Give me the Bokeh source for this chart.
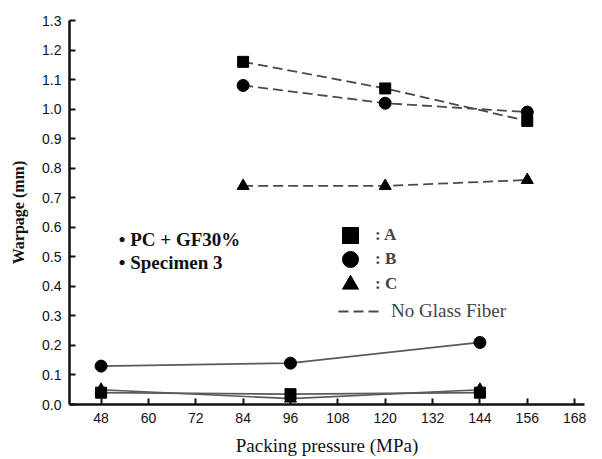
from bokeh.plotting import figure
from bokeh.models import (FixedTicker, Range1d, Label, Legend, LegendItem,
                          NumeralTickFormatter)
from bokeh.embed import file_html
from bokeh.resources import INLINE

# Packing pressure (MPa)
p_gf = [48, 96, 144]          # PC + GF30%
p_nogf = [84, 120, 156]       # no glass fiber

# Warpage (mm), PC + GF30%, specimen 3
gf_A = [0.04, 0.035, 0.04]
gf_B = [0.13, 0.14, 0.21]
gf_C = [0.05, 0.02, 0.05]

# Warpage (mm), no glass fiber
ng_A = [1.16, 1.07, 0.96]
ng_B = [1.08, 1.02, 0.99]
ng_C = [0.74, 0.74, 0.76]

x_ticks = [48, 60, 72, 84, 96, 108, 120, 132, 144, 156, 168]
y_ticks = [0.0, 0.1, 0.2, 0.3, 0.4, 0.5, 0.6, 0.7, 0.8, 0.9, 1.0, 1.1, 1.2, 1.3]

p = figure(width=602, height=459, output_backend="svg", toolbar_location=None,
           x_range=Range1d(40, 170.5), y_range=Range1d(0, 1.3),
           min_border_left=69, min_border_right=18, min_border_top=20, min_border_bottom=55)
p.outline_line_color = None
p.grid.visible = False
p.background_fill_color = "white"

SERIF = "'Liberation Serif', 'Times New Roman', 'DejaVu Serif', serif"
SANS = "Liberation Sans"

for ax in (p.xaxis[0], p.yaxis[0]):
    ax.axis_line_width = 2.5
    ax.axis_line_color = "#111111"
    ax.major_tick_line_width = 2
    ax.major_tick_line_color = "#111111"
    ax.major_tick_in = 6
    ax.major_tick_out = 0
    ax.minor_tick_line_color = None
    ax.major_label_text_font = SANS
    ax.major_label_text_font_size = "14px"
    ax.major_label_text_color = "#111111"
    ax.axis_label_text_font = SERIF
    ax.axis_label_text_color = "#111111"

p.xaxis.ticker = FixedTicker(ticks=x_ticks)
p.yaxis.ticker = FixedTicker(ticks=y_ticks)
p.yaxis.formatter = NumeralTickFormatter(format="0.0")
p.xaxis.major_label_standoff = 8
p.yaxis.major_label_standoff = 8
p.xaxis.axis_label = "Packing pressure (MPa)"
p.yaxis.axis_label = "Warpage (mm)"
p.yaxis.axis_label_text_font_style = "bold"
p.yaxis.axis_label_text_font_size = "16px"
p.xaxis.axis_label_text_font_style = "normal"
p.xaxis.axis_label_text_font_size = "19px"
p.xaxis.axis_label_standoff = 9
p.yaxis.axis_label_standoff = 12

SOLID = "#5a5a5a"
DASH = "#4a4a4a"
MK = "#000000"

# glass-fiber series: solid lines
for ys in (gf_A, gf_B, gf_C):
    p.line(p_gf, ys, line_color=SOLID, line_width=1.7)
# no-glass-fiber series: dashed lines
dash_lines = []
for ys in (ng_A, ng_B, ng_C):
    dash_lines.append(p.line(p_nogf, ys, line_color=DASH, line_width=1.8, line_dash="10 5"))

mA = p.scatter(p_gf, gf_A, marker="square", size=11, color=MK)
mB = p.scatter(p_gf, gf_B, marker="circle", size=12, color=MK)
mC = p.scatter(p_gf, gf_C, marker="triangle", size=12, color=MK)
p.scatter(p_nogf, ng_A, marker="square", size=11, color=MK)
p.scatter(p_nogf, ng_B, marker="circle", size=12, color=MK)
p.scatter(p_nogf, ng_C, marker="triangle", size=12, color=MK)

# annotation block
for txt, yv in (("\u2022 PC + GF30%", 0.557), ("\u2022 Specimen 3", 0.482)):
    p.add_layout(Label(x=52.5, y=yv, text=txt, text_font=SERIF, text_font_size="19px",
                       text_font_style="bold", text_baseline="middle", text_color="#111111"))

# marker key: one legend per row so the swatches can be large and rows close
def key(label, rend, vy):
    return Legend(items=[LegendItem(label=label, renderers=[rend])],
                  location=(261, vy), glyph_width=40, glyph_height=40,
                  padding=0, margin=0, border_line_color=None, background_fill_alpha=0,
                  label_text_font=SERIF, label_text_font_style="bold",
                  label_text_font_size="17px", label_standoff=5)

p.add_layout(key(": A", mA, 149), "center")
p.add_layout(key(": B", mB, 125), "center")
p.add_layout(key(": C", mC, 100), "center")
leg2 = Legend(items=[LegendItem(label="No Glass Fiber", renderers=[dash_lines[0]])],
              location=(269, 82), glyph_width=45, glyph_height=20,
              padding=0, margin=0, border_line_color=None, background_fill_alpha=0,
              label_text_font=SERIF, label_text_font_size="19px", label_standoff=8)
p.add_layout(leg2, "center")

open("out.html", "w").write(file_html(p, INLINE))
